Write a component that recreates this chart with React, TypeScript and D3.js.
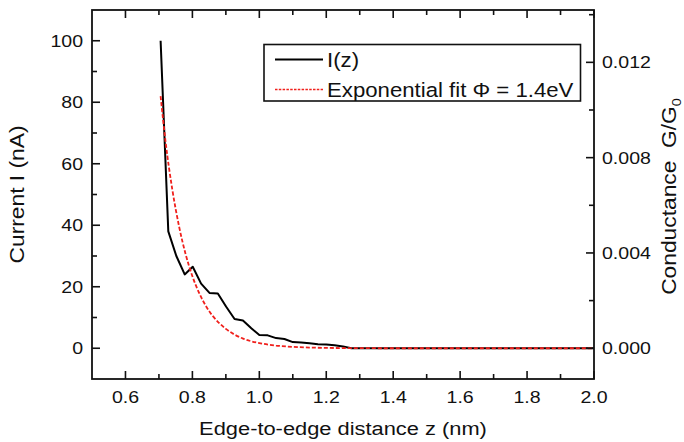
import React from "react";
import * as d3 from "d3";

// ---- data ----
const measuredZ = [0.705, 0.728, 0.752, 0.777, 0.801, 0.826, 0.851, 0.876, 0.901, 0.926, 0.951, 0.976, 1.0, 1.025, 1.05, 1.075, 1.1, 1.125, 1.15, 1.175, 1.2, 1.225, 1.25, 1.275, 1.3, 1.4, 1.5, 1.6, 1.7, 1.8, 1.9, 2.0];
const measuredI = [100, 38, 30, 24, 26.5, 21, 18, 17.8, 13.5, 9.5, 9, 6.5, 4.3, 4.2, 3.3, 3.0, 2.0, 1.9, 1.6, 1.3, 1.2, 1.0, 0.6, 0, 0, 0, 0, 0, 0, 0, 0, 0];
const fitZ = [0.705, 0.72, 0.74, 0.76, 0.78, 0.8, 0.82, 0.84, 0.86, 0.88, 0.9, 0.925, 0.95, 0.975, 1.0, 1.05, 1.1, 1.15, 1.2, 1.3, 1.4, 1.6, 1.8, 2.0];
const fitI = [82, 67, 51.6, 39.7, 30.5, 23.4, 18, 13.8, 10.6, 8.2, 6.3, 4.5, 3.2, 2.3, 1.7, 0.87, 0.45, 0.23, 0.12, 0.03, 0, 0, 0, 0];

const xMajor = [0.6, 0.8, 1.0, 1.2, 1.4, 1.6, 1.8, 2.0];
const xMinor = [0.7, 0.9, 1.1, 1.3, 1.5, 1.7, 1.9];
const yMajor = [0, 20, 40, 60, 80, 100];
const yMinor = [10, 30, 50, 70, 90];
const gMajor = [0, 0.004, 0.008, 0.012];
const gMinor = [0.002, 0.006, 0.01, 0.014];

const xDomain = [0.5, 2.0];
const yDomain = [-10, 110];
const nAtoG = 1e-9 / (0.1 * 77.48e-6); // conductance per nA at 0.1 V

const legendLabels = ["I(z)", "Exponential fit \u03A6 = 1.4eV"];
const xTitle = "Edge-to-edge distance z (nm)";
const yTitle = "Current I (nA)";

export default function App() {
  const W = 684, H = 442;
  const m = { l: 92, r: 90, t: 10, b: 63 };
  const x = d3.scaleLinear().domain(xDomain).range([m.l, W - m.r]);
  const y = d3.scaleLinear().domain(yDomain).range([H - m.b, m.t]);
  const g = d3.scaleLinear().domain([yDomain[0] * nAtoG, yDomain[1] * nAtoG]).range([H - m.b, m.t]);
  const lineGen = d3.line<[number, number]>().x(d => x(d[0])).y(d => y(d[1]));
  const fitGen = d3.line<[number, number]>().x(d => x(d[0])).y(d => y(d[1])).curve(d3.curveMonotoneX);
  const meas = measuredZ.map((z, i) => [z, measuredI[i]] as [number, number]);
  const fit = fitZ.map((z, i) => [z, fitI[i]] as [number, number]);
  const left = m.l, right = W - m.r, top = m.t, bottom = H - m.b;
  const font = "'Liberation Sans', Arial, sans-serif";
  const tickFs = 17;
  const titleFs = 19;
  const legFs = 19.3;
  const sx = 1.15;
  const sRot = 1.2;
  const MJ = 8, MN = 5;
  const stroke = "#111";
  const red = "#f0201c";
  const midY = (top + bottom) / 2;
  return (
    <svg width={W} height={H} style={{ position: "absolute", left: 0, top: 0, background: "#fff" }} fontFamily={font}>
      <rect x={0} y={0} width={W} height={H} fill="#fff" />
      <defs>
        <clipPath id="plot"><rect x={left} y={top} width={right - left} height={bottom - top} /></clipPath>
      </defs>
      <g clipPath="url(#plot)">
        <path d={lineGen(meas) || ""} fill="none" stroke="#000" strokeWidth={2} strokeLinejoin="round" />
        <path d={fitGen(fit) || ""} fill="none" stroke={red} strokeWidth={1.8} strokeDasharray="4,2" />
      </g>
      {/* frame */}
      <rect x={left} y={top} width={right - left} height={bottom - top} fill="none" stroke={stroke} strokeWidth={1.8} />
      {/* x ticks bottom & top */}
      {xMajor.map(v => (
        <g key={"xm" + v}>
          <line x1={x(v)} x2={x(v)} y1={bottom} y2={bottom - MJ} stroke={stroke} strokeWidth={1.6} />
          <line x1={x(v)} x2={x(v)} y1={top} y2={top + MJ} stroke={stroke} strokeWidth={1.6} />
          <text transform={`translate(${x(v)},${bottom + 24}) scale(${sx},1)`} textAnchor="middle" fontSize={tickFs} fill="#111">{v.toFixed(1)}</text>
        </g>
      ))}
      {xMinor.map(v => (
        <g key={"xn" + v}>
          <line x1={x(v)} x2={x(v)} y1={bottom} y2={bottom - MN} stroke={stroke} strokeWidth={1.6} />
          <line x1={x(v)} x2={x(v)} y1={top} y2={top + MN} stroke={stroke} strokeWidth={1.6} />
        </g>
      ))}
      {yMajor.map(v => (
        <g key={"ym" + v}>
          <line x1={left} x2={left + MJ} y1={y(v)} y2={y(v)} stroke={stroke} strokeWidth={1.6} />
          <text transform={`translate(${left - 9},${y(v) + 6}) scale(${sx},1)`} textAnchor="end" fontSize={tickFs} fill="#111">{v}</text>
        </g>
      ))}
      {yMinor.map(v => (
        <line key={"yn" + v} x1={left} x2={left + MN} y1={y(v)} y2={y(v)} stroke={stroke} strokeWidth={1.6} />
      ))}
      {gMajor.map(v => (
        <g key={"gm" + v}>
          <line x1={right} x2={right - MJ} y1={g(v)} y2={g(v)} stroke={stroke} strokeWidth={1.6} />
          <text transform={`translate(${right + 8},${g(v) + 6}) scale(${sx},1)`} textAnchor="start" fontSize={tickFs} fill="#111">{v.toFixed(3)}</text>
        </g>
      ))}
      {gMinor.map(v => (
        <line key={"gn" + v} x1={right} x2={right - MN} y1={g(v)} y2={g(v)} stroke={stroke} strokeWidth={1.6} />
      ))}
      {/* titles */}
      <text transform={`translate(${(left + right) / 2},${H - 7}) scale(${sx},1)`} textAnchor="middle" fontSize={titleFs} fill="#111">{xTitle}</text>
      <text transform={`translate(24,${midY}) rotate(-90) scale(${sRot},1.05)`} textAnchor="middle" fontSize={titleFs} fill="#111">{yTitle}</text>
      <text transform={`translate(676,${midY + 2}) rotate(-90) scale(${sRot},1.05)`} textAnchor="middle" fontSize={titleFs} fill="#111">
        {"Conductance\u00A0\u00A0G/G"}<tspan fontSize={12} dy={5}>0</tspan>
      </text>
      {/* legend */}
      <rect x={264} y={44.5} width={316.5} height={56.5} fill="#fff" stroke={stroke} strokeWidth={1.6} />
      <line x1={275} x2={323} y1={59.5} y2={59.5} stroke="#000" strokeWidth={1.8} />
      <line x1={275} x2={323} y1={89.5} y2={89.5} stroke={red} strokeWidth={1.4} strokeDasharray="2.5,1.3" />
      <text transform={`translate(327,66.5) scale(${sx},1)`} fontSize={legFs} fill="#111">{legendLabels[0]}</text>
      <text transform={`translate(327,96.5) scale(${sx},1)`} fontSize={legFs} fill="#111">{legendLabels[1]}</text>
    </svg>
  );
}
